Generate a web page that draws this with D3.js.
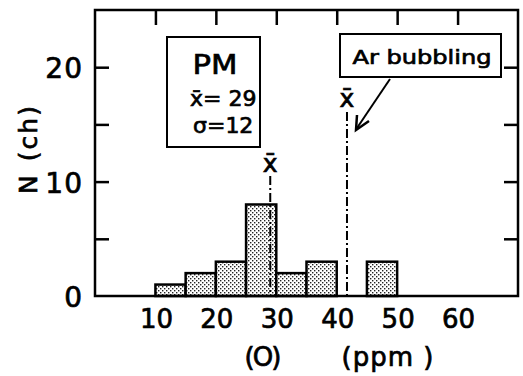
<!DOCTYPE html>
<html>
<head>
<meta charset="utf-8">
<script src="https://cdn.jsdelivr.net/npm/d3@7"></script>
<style>
  html, body { margin: 0; padding: 0; background: #fff; }
  svg { display: block; }
  text { font-family: "DejaVu Sans", sans-serif; fill: #000; stroke: #000; stroke-width: 0.7px; }
</style>
</head>
<body>
<svg id="chart" width="523" height="376"></svg>
<script>
// ---- data ----
const binStarts = [10, 15, 20, 25, 30, 35, 40, 45];
const binWidth = 5;
const counts = [1, 2, 3, 8, 2, 3, 0, 3];
const xTickValues = [10, 20, 30, 40, 50, 60];
const yLabelValues = [0, 10, 20];
const yMinorTicks = [5, 10, 15, 20];
const meanPM = 29;
const meanAr = 41.7;
const boxLines = ["PM", "x\u0304= 29", "\u03c3=12"];
const arLabel = "Ar bubbling";

// ---- scales ----
const svg = d3.select("#chart");
const x = d3.scaleLinear().domain([0, 70]).range([95, 518]);
const y = d3.scaleLinear().domain([0, 25]).range([296, 10]);

// pattern (stipple)
const defs = svg.append("defs");
const pat = defs.append("pattern").attr("id", "stip")
  .attr("patternUnits", "userSpaceOnUse").attr("width", 4).attr("height", 4);
pat.append("rect").attr("width", 4).attr("height", 4).attr("fill", "#fff");
pat.append("rect").attr("x", 0).attr("y", 0).attr("width", 1.4).attr("height", 1.4).attr("fill", "#222");
pat.append("rect").attr("x", 2).attr("y", 2).attr("width", 1.4).attr("height", 1.4).attr("fill", "#222");

// bars
const bins = binStarts.map((s, i) => ({ x0: s, x1: s + binWidth, n: counts[i] })).filter(d => d.n > 0);
svg.append("g").selectAll("rect").data(bins).join("rect")
  .attr("x", d => x(d.x0))
  .attr("width", d => x(d.x1) - x(d.x0))
  .attr("y", d => y(d.n))
  .attr("height", d => y(0) - y(d.n))
  .attr("fill", "url(#stip)")
  .attr("stroke", "#000").attr("stroke-width", 2.5);

// frame
svg.append("rect")
  .attr("x", x(0)).attr("y", y(25))
  .attr("width", x(70) - x(0)).attr("height", y(0) - y(25))
  .attr("fill", "none").attr("stroke", "#000").attr("stroke-width", 2.5);

// inner ticks
function styleAxis(g) {
  g.select(".domain").remove();
  g.selectAll(".tick line").attr("stroke", "#000").attr("stroke-width", 2.5);
  g.selectAll(".tick text").remove();
}
svg.append("g").attr("transform", `translate(${x(0)},0)`)
  .call(d3.axisRight(y).tickValues(yMinorTicks).tickSize(14).tickFormat(""))
  .call(styleAxis);
svg.append("g").attr("transform", `translate(${x(70)},0)`)
  .call(d3.axisLeft(y).tickValues(yMinorTicks).tickSize(14).tickFormat(""))
  .call(styleAxis);
svg.append("g").attr("transform", `translate(0,${y(25)})`)
  .call(d3.axisBottom(x).tickValues(xTickValues).tickSize(15).tickFormat(""))
  .call(styleAxis);

// y tick labels
svg.append("g").selectAll("text").data(yLabelValues).join("text")
  .attr("x", 83).attr("y", d => y(d) + 1.5)
  .attr("text-anchor", "end").attr("dominant-baseline", "central")
  .attr("font-size", 28).attr("letter-spacing", 1)
  .text(d => d);

// x tick labels
svg.append("g").selectAll("text").data(xTickValues).join("text")
  .attr("x", d => x(d) + 1).attr("y", 328)
  .attr("text-anchor", "middle")
  .attr("font-size", 26)
  .text(d => d);

// axis titles
svg.append("text").attr("x", 262).attr("y", 366).attr("text-anchor", "middle")
  .attr("font-size", 26).attr("letter-spacing", -2)
  .text("(O)");
svg.append("text").attr("x", 388).attr("y", 366).attr("text-anchor", "middle")
  .attr("font-size", 26).attr("letter-spacing", 1)
  .text("(ppm )");
const yl = svg.append("text")
  .attr("transform", "translate(37,149) rotate(-90)")
  .attr("text-anchor", "middle").attr("font-size", 25);
yl.append("tspan").text("N");
yl.append("tspan").attr("dx", 14).attr("letter-spacing", 2).text("(ch)");

// mean lines
const means = [{ v: meanPM, top: 176, lab: 172 }, { v: meanAr, top: 112, lab: 107 }];
svg.append("g").selectAll("line").data(means).join("line")
  .attr("x1", d => x(d.v)).attr("x2", d => x(d.v))
  .attr("y1", d => d.top).attr("y2", y(0))
  .attr("stroke", "#000").attr("stroke-width", 2)
  .attr("stroke-dasharray", "9,3,2,3");
svg.append("g").selectAll("text").data(means).join("text")
  .attr("x", d => x(d.v)).attr("y", d => d.lab)
  .attr("text-anchor", "middle").attr("font-size", 25)
  .text("x\u0304");

// PM box
svg.append("rect").attr("x", 167).attr("y", 37).attr("width", 93).attr("height", 110)
  .attr("fill", "#fff").attr("stroke", "#000").attr("stroke-width", 2);
svg.append("text").attr("x", 215).attr("y", 74).attr("text-anchor", "middle")
  .attr("font-size", 27).attr("textLength", 45).attr("lengthAdjust", "spacingAndGlyphs")
  .text(boxLines[0]);
svg.append("text").attr("x", 190).attr("y", 106).attr("font-size", 22).text(boxLines[1]);
svg.append("text").attr("x", 193).attr("y", 133).attr("font-size", 22).text(boxLines[2]);

// Ar bubbling box
svg.append("rect").attr("x", 340).attr("y", 34).attr("width", 161).attr("height", 43)
  .attr("fill", "#fff").attr("stroke", "#000").attr("stroke-width", 2);
svg.append("text").attr("x", 422).attr("y", 64).attr("text-anchor", "middle")
  .attr("font-size", 20).attr("textLength", 139).attr("lengthAdjust", "spacingAndGlyphs")
  .text(arLabel);

// arrow
svg.append("path")
  .attr("d", "M390,79 L357,128")
  .attr("fill", "none").attr("stroke", "#000").attr("stroke-width", 2);
svg.append("path")
  .attr("d", "M357,115 L356,130 L369,121")
  .attr("fill", "none").attr("stroke", "#000").attr("stroke-width", 2.5)
  .attr("stroke-linejoin", "miter");
</script>
</body>
</html>
